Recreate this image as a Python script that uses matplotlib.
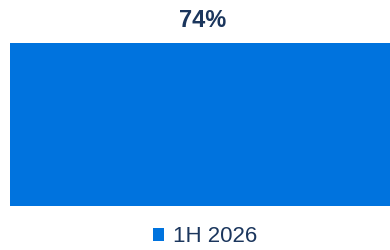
import matplotlib
matplotlib.use("Agg")
import matplotlib.pyplot as plt
from matplotlib.patches import Patch

categories = ["1H 2026"]
values = [74]
labels = ["74%"]

bar_color = "#0073DE"
text_color = "#1B365D"

plt.rcParams['font.family'] = ['Liberation Sans', 'DejaVu Sans']

fig = plt.figure(figsize=(3.9, 2.5), dpi=100)
ax = fig.add_axes([10/390, 1-206/250, 1-10/390, (206-43)/250])
bars = ax.bar([0], values, width=1.0, color=bar_color, label=categories[0])
ax.set_xlim(-0.5, 0.5)
ax.set_ylim(0, values[0])
ax.axis('off')
for b, lab in zip(bars, labels):
    ax.annotate(lab, (b.get_x() + b.get_width()/2 + 0.008, b.get_height()),
                xytext=(0, 11.5), textcoords='offset points', ha='center', va='baseline',
                fontsize=17, fontweight='bold', color=text_color, annotation_clip=False)

handles = [Patch(facecolor=bar_color, edgecolor='none')]
fig.legend(handles, categories, loc='center', bbox_to_anchor=(205/390, 1-237/250),
           frameon=False, fontsize=16, labelcolor=text_color,
           handlelength=0.5, handleheight=0.5, handletextpad=0.4, borderpad=0)

fig.savefig("out.png", dpi=100)
